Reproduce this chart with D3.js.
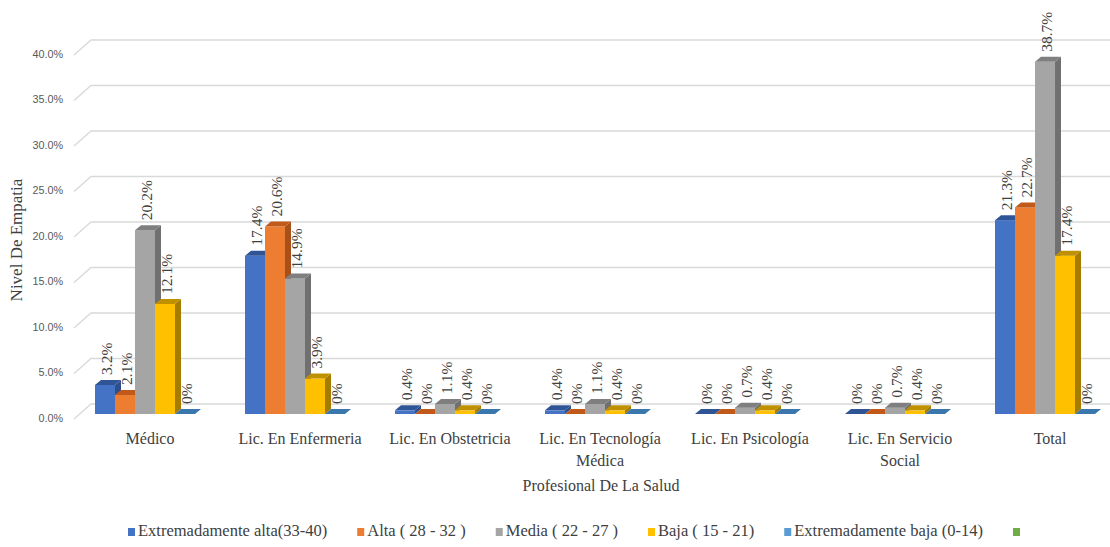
<!DOCTYPE html>
<html>
<head>
<meta charset="utf-8">
<script src="https://cdn.jsdelivr.net/npm/d3@7"></script>
<style>
  html, body { margin: 0; padding: 0; background: #fff; }
  svg { display: block; }
</style>
</head>
<body>
<svg id="chart" width="1110" height="547"></svg>
<script>
// ---- DATA ----
const categories = ["Médico", "Lic. En Enfermeria", "Lic. En Obstetricia", "Lic. En Tecnología Médica", "Lic. En Psicología", "Lic. En Servicio Social", "Total"];
const categoryLines = [["Médico"], ["Lic. En Enfermeria"], ["Lic. En Obstetricia"], ["Lic. En Tecnología", "Médica"], ["Lic. En Psicología"], ["Lic. En Servicio", "Social"], ["Total"]];
const seriesNames = ["Extremadamente alta(33-40)", "Alta ( 28 - 32 )", "Media ( 22 - 27 )", "Baja ( 15 - 21)", "Extremadamente baja (0-14)", ""];
const extremadamenteAlta = [3.2, 17.4, 0.4, 0.4, 0, 0, 21.3];
const alta = [2.1, 20.6, 0, 0, 0, 0, 22.7];
const media = [20.2, 14.9, 1.1, 1.1, 0.7, 0.7, 38.7];
const baja = [12.1, 3.9, 0.4, 0.4, 0.4, 0.4, 17.4];
const extremadamenteBaja = [0, 0, 0, 0, 0, 0, 0];
const yTicks = [0, 5, 10, 15, 20, 25, 30, 35, 40];

const seriesValues = [extremadamenteAlta, alta, media, baja, extremadamenteBaja];
const colors = ["#4472c4", "#ed7d31", "#a5a5a5", "#ffc000", "#5b9bd5", "#70ad47"];
const topColors = ["#2f5597", "#c0591a", "#7f7f7f", "#bf9000", "#3a77ad"];
const sideColors = ["#2e4f8c", "#a8501a", "#707070", "#a67c00", "#336699"];

// ---- LAYOUT ----
const svg = d3.select("#chart");
const serif = "'Liberation Serif', 'Times New Roman', serif";
const DX = 6, DY = -5;          // bar depth
const GDX = 17, GDY = -15;      // wall depth for gridlines

const x0 = d3.scaleBand().domain(categories).range([70, 1120]).paddingInner(1/3).paddingOuter(1/6);
const x1 = d3.scaleBand().domain(d3.range(5)).range([0, x0.bandwidth()]);
const y = d3.scaleLinear().domain([0, 40]).range([414, 50]);

// gridlines (on back wall, with slanted left part)
const grid = svg.append("g");
yTicks.forEach(t => {
  const yf = y(t) + 5;
  grid.append("path")
    .attr("d", `M74,${yf} L${74 + GDX},${yf + GDY} L1110,${yf + GDY}`)
    .attr("fill", "none").attr("stroke", "#d9d9d9").attr("stroke-width", 1.3);
  grid.append("text")
    .attr("x", 63).attr("y", yf)
    .attr("text-anchor", "end").attr("dominant-baseline", "middle")
    .attr("font-family", "'Liberation Sans', Arial, sans-serif").attr("font-size", 10.8)
    .attr("fill", "#595959")
    .text(d3.format(".1f")(t) + "%");
});

// bars
const bars = svg.append("g");
categories.forEach((c, ci) => {
  seriesValues.forEach((vals, si) => {
    const v = vals[ci];
    const bx = x0(c) + x1(si);
    const w = x1.bandwidth();
    const yt = y(v), yb = y(0);
    const g = bars.append("g");
    if (v > 0) {
      g.append("rect").attr("x", bx).attr("y", yt).attr("width", w).attr("height", yb - yt).attr("fill", colors[si]);
      g.append("path").attr("d", `M${bx + w},${yt} L${bx + w + DX},${yt + DY} L${bx + w + DX},${yb + DY} L${bx + w},${yb} Z`).attr("fill", sideColors[si]);
    }
    g.append("path").attr("d", `M${bx},${yt} L${bx + DX},${yt + DY} L${bx + w + DX},${yt + DY} L${bx + w},${yt} Z`).attr("fill", topColors[si]);
  });
});

// value labels
const labels = svg.append("g");
categories.forEach((c, ci) => {
  seriesValues.forEach((vals, si) => {
    const v = vals[ci];
    const cx = x0(c) + x1(si) + x1.bandwidth() / 2 + 3;
    const ty = y(v) + DY - 5;
    labels.append("text")
      .attr("transform", `translate(${cx},${ty}) rotate(-90)`)
      .attr("dominant-baseline", "middle")
      .attr("font-family", serif).attr("font-size", 15.5)
      .attr("fill", "#404040")
      .text(v === 0 ? "0%" : d3.format(".1f")(v) + "%");
  });
});

// category labels
const catG = svg.append("g");
categories.forEach((c, ci) => {
  const t = catG.append("text")
    .attr("x", x0(c) + x0.bandwidth() / 2 + 5).attr("y", 444)
    .attr("text-anchor", "middle")
    .attr("font-family", serif).attr("font-size", 16).attr("fill", "#404040");
  categoryLines[ci].forEach((line, li) => {
    t.append("tspan").attr("x", x0(c) + x0.bandwidth() / 2 + 5).attr("dy", li === 0 ? 0 : 22).text(line);
  });
});

// axis titles
svg.append("text").attr("x", 601).attr("y", 491).attr("text-anchor", "middle")
  .attr("font-family", serif).attr("font-size", 16).attr("fill", "#404040")
  .text("Profesional De La Salud");
svg.append("text").attr("transform", "translate(22,240) rotate(-90)").attr("text-anchor", "middle")
  .attr("font-family", serif).attr("font-size", 17).attr("fill", "#404040")
  .text("Nivel De Empatia");

// legend
const legend = svg.append("g");
let lx = 0;
const GAP = 30;
seriesNames.forEach((name, i) => {
  const g = legend.append("g").attr("transform", `translate(${lx},0)`);
  g.append("rect").attr("x", 0).attr("y", -8).attr("width", 7).attr("height", 8).attr("fill", colors[i]);
  const t = g.append("text").attr("x", 10).attr("y", 0)
    .attr("font-family", serif).attr("font-size", 16.5).attr("fill", "#404040").text(name);
  const tw = name ? t.node().getComputedTextLength() : 0;
  lx += 10 + tw + GAP;
});
const totalW = lx - GAP - 3;
legend.attr("transform", `translate(${574 - totalW / 2},536)`);
</script>
</body>
</html>
